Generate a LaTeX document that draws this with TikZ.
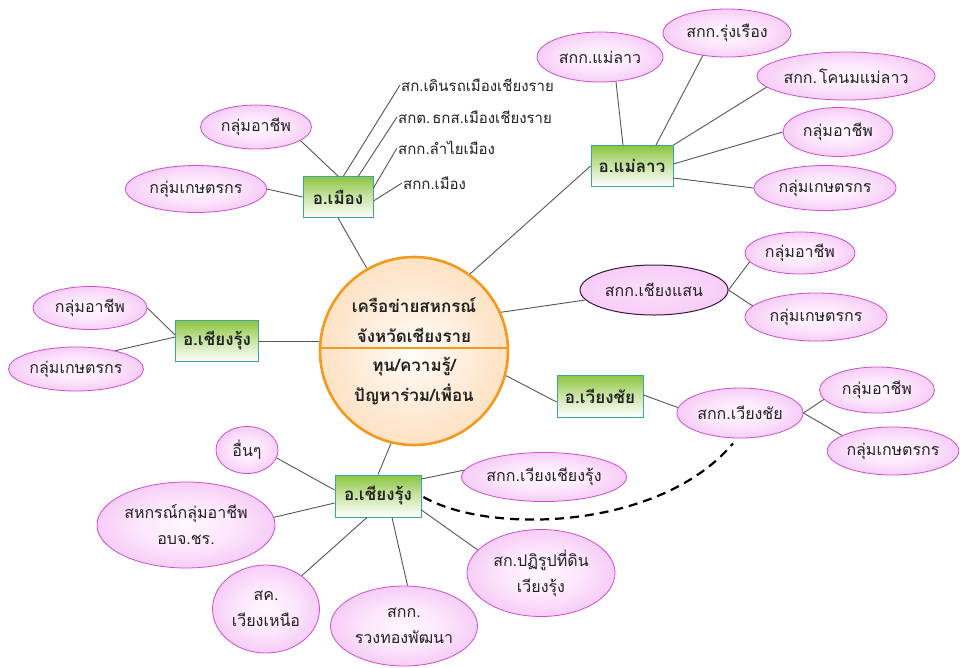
\documentclass[tikz,border=0pt]{standalone}
\usepackage{fontspec}
\newfontfamily\thai[Script=Thai]{Loma}
\usetikzlibrary{shapes.geometric,calc}
\definecolor{pinkborder}{HTML}{CC4FCC}
\definecolor{darkborder}{HTML}{3A1838}
\definecolor{boxborder}{HTML}{3FA3A3}
\definecolor{boxgreen}{HTML}{8BC53F}
\definecolor{huborange}{HTML}{F29A1E}
\definecolor{linegray}{HTML}{555555}
\definecolor{txt}{HTML}{222222}
\pgfdeclareradialshading{pinkball}{\pgfpoint{0bp}{0bp}}{rgb(0bp)=(1,0.97,1); rgb(14bp)=(0.99,0.9,0.99); rgb(50bp)=(0.92,0.58,0.92)}
\pgfdeclareradialshading{pinkflat}{\pgfpoint{0bp}{0bp}}{rgb(0bp)=(0.99,0.88,0.99); rgb(50bp)=(0.95,0.72,0.95)}
\pgfdeclareradialshading{hubshade}{\pgfpoint{0bp}{0bp}}{rgb(0bp)=(1,0.99,0.97); rgb(14bp)=(1,0.93,0.86); rgb(50bp)=(0.98,0.78,0.55)}
\tikzset{
  pinkell/.style={ellipse, draw=pinkborder, line width=0.8pt, shading=pinkball, inner sep=0pt,
    align=center, text=txt, font=\thai\fontsize{16}{26}\selectfont},
  darkell/.style={pinkell, draw=darkborder, line width=1pt, shading=pinkflat},
  gbox/.style={rectangle, draw=boxborder, line width=0.9pt, top color=boxgreen, bottom color=white,
    middle color=boxgreen!45!white, inner sep=0pt, text=txt, font=\thai\bfseries\fontsize{17}{20}\selectfont},
  hubstyle/.style={circle, draw=huborange, line width=2.6pt, shading=hubshade, minimum size=188pt, inner sep=0pt},
  hubtext/.style={align=center, text=txt, inner sep=0pt, font=\thai\bfseries\fontsize{17}{30}\selectfont},
  sidetext/.style={anchor=west, inner sep=1pt, text=txt, font=\thai\fontsize{15}{18}\selectfont},
  conn/.style={draw=linegray, line width=0.9pt},
}
\begin{document}
\begin{tikzpicture}[x=1pt,y=-1pt]
\useasboundingbox (0,0) rectangle (960,667);
\fill[white] (0,0) rectangle (960,667);

% hub
\node[hubstyle] (hub) at (414,351) {};
\draw[huborange, line width=2.2pt] (hub.178) -- (hub.2);
\node[hubtext] (hubtop) at (414,320) {เครือข่ายสหกรณ์\\จังหวัดเชียงราย};
\node[hubtext] (hubbot) at (414,381) {ทุน/ความรู้/\\ปัญหาร่วม/เพื่อน};

% district boxes
\node[gbox, minimum width=70pt, minimum height=41pt] (mueang) at (338,197) {อ.เมือง};
\node[gbox, minimum width=82pt, minimum height=41pt] (maelao) at (632,166) {อ.แม่ลาว};
\node[gbox, minimum width=83pt, minimum height=41pt] (cr1) at (217,341) {อ.เชียงรุ้ง};
\node[gbox, minimum width=86pt, minimum height=42pt] (wc) at (600,396) {อ.เวียงชัย};
\node[gbox, minimum width=86pt, minimum height=42pt] (cr2) at (378,496) {อ.เชียงรุ้ง};

% ellipses
\node[pinkell, minimum width=111pt, minimum height=44pt] (ea1) at (256,127) {กลุ่มอาชีพ};
\node[pinkell, minimum width=141pt, minimum height=47pt] (eg1) at (196,189) {กลุ่มเกษตรกร};
\node[pinkell, minimum width=126pt, minimum height=50pt] (ml1) at (600,57) {สกก.แม่ลาว};
\node[pinkell, minimum width=128pt, minimum height=48pt] (rr) at (727,33) {สกก.รุ่งเรือง};
\node[pinkell, minimum width=178pt, minimum height=48pt] (knm) at (846,76) {สกก.\hspace{2pt}โคนมแม่ลาว};
\node[pinkell, minimum width=110pt, minimum height=49pt] (ea2) at (838,132) {กลุ่มอาชีพ};
\node[pinkell, minimum width=142pt, minimum height=45pt] (eg2) at (825,188) {กลุ่มเกษตรกร};
\node[darkell, minimum width=148pt, minimum height=50pt] (cs) at (654,290) {สกก.เชียงแสน};
\node[pinkell, minimum width=110pt, minimum height=42pt] (ea3) at (800,253) {กลุ่มอาชีพ};
\node[pinkell, minimum width=142pt, minimum height=48pt] (eg3) at (816,317) {กลุ่มเกษตรกร};
\node[pinkell, minimum width=126pt, minimum height=50pt] (wcs) at (740,413) {สกก.เวียงชัย};
\node[pinkell, minimum width=115pt, minimum height=46pt] (ea4) at (877,390) {กลุ่มอาชีพ};
\node[pinkell, minimum width=130pt, minimum height=48pt] (eg4) at (893,451) {กลุ่มเกษตรกร};
\node[pinkell, minimum width=114pt, minimum height=43pt] (ea5) at (90,308) {กลุ่มอาชีพ};
\node[pinkell, minimum width=135pt, minimum height=44pt] (eg5) at (76,369) {กลุ่มเกษตรกร};
\node[pinkell, minimum width=62pt, minimum height=47pt] (oth) at (247,450) {อื่นๆ};
\node[pinkell, minimum width=178pt, minimum height=86pt] (cg) at (186,525) {สหกรณ์กลุ่มอาชีพ\\อบจ.ชร.};
\node[pinkell, minimum width=107pt, minimum height=88pt] (sk) at (266,609) {สค.\\เวียงเหนือ};
\node[pinkell, minimum width=147pt, minimum height=80pt] (rt) at (404,626) {สกก.\\รวงทองพัฒนา};
\node[pinkell, minimum width=165pt, minimum height=49pt] (wcr) at (544,477) {สกก.เวียงเชียงรุ้ง};
\node[pinkell, minimum width=148pt, minimum height=87pt] (pr) at (541,573) {สก.ปฏิรูปที่ดิน\\เวียงรุ้ง};

% plain texts
\node[sidetext] (t1) at (400,85) {สก.เดินรถเมืองเชียงราย};
\node[sidetext] (t2) at (397,117) {สกต.\hspace{2pt}ธกส.เมืองเชียงราย};
\node[sidetext] (t3) at (397,148) {สกก.ลำไยเมือง};
\node[sidetext] (t4) at (402,183) {สกก.เมือง};

% connectors
\path[conn] (mueang.south) -- (hub);
\path[conn] (hub.54) -- (maelao.west);
\path[conn] (hub.24) -- (cs);
\path[conn] (hub.-15) -- ($(wc.west)+(0,6)$);
\path[conn] (cr1.east) -- (cr1.east -| hub.west);
\path[conn] (hub.-104) -- (cr2.north);

\path[conn] (ea1.-17) -- (mueang.north);
\path[conn] (eg1.east) -- (mueang.west);
\path[conn] ($(mueang.north east)+(-30,0)$) -- (t1.west);
\path[conn] ($(mueang.north east)+(-15,0)$) -- (t2.west);
\path[conn] ($(mueang.east)+(0,-9)$) -- (t3.west);
\path[conn] ($(mueang.east)+(0,4)$) -- (t4.west);

\path[conn] ($(maelao.north)+(-9,0)$) -- (ml1.-57);
\path[conn] ($(maelao.north)+(24,0)$) -- (rr.-137);
\path[conn] (maelao.north east) -- (knm.-172);
\path[conn] ($(maelao.east)+(0,-2)$) -- (ea2.west);
\path[conn] ($(maelao.east)+(0,12)$) -- (eg2.west);

\path[conn] (cs.east) -- (ea3.-170);
\path[conn] (cs.east) -- (eg3.170);

\path[conn] ($(wc.east)+(0,-1)$) -- (wcs.175);
\path[conn] (wcs.east) -- (ea4.-170);
\path[conn] (wcs.east) -- (eg4.163);

\path[conn] (ea5.east) -- ($(cr1.west)+(0,-6)$);
\path[conn] (eg5.25) -- ($(cr1.west)+(0,-4)$);

\path[conn] (oth.-15) -- ($(cr2.west)+(0,-6)$);
\path[conn] (cg.5) -- ($(cr2.west)+(0,7)$);
\path[conn] (sk.43) -- ($(cr2.south)+(-11,0)$);
\path[conn] ($(cr2.south)+(14,0)$) -- (rt.85);
\path[conn] ($(cr2.east)+(0,-17)$) -- (wcr.175);
\path[conn] ($(cr2.east)+(0,14)$) -- (pr.160);

\draw[black, line width=2.2pt, dash pattern=on 9pt off 6pt]
  ($(cr2.east)+(2,1)$) .. controls (490,535) and (660,530) .. ($(wcs.south)+(-7,5)$);
\end{tikzpicture}
\end{document}
